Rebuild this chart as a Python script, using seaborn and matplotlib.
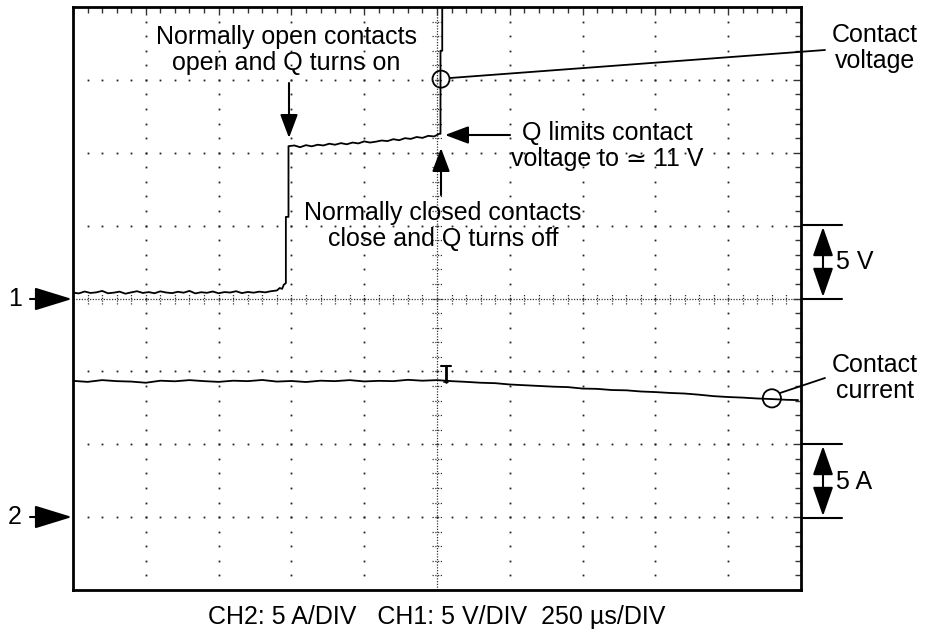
import numpy as np
import matplotlib
matplotlib.use("Agg")
import matplotlib.pyplot as plt
import seaborn as sns
from matplotlib.patches import Ellipse

# --- scope settings ---
US_PER_DIV = 250.0          # time base
CH1_V_PER_DIV = 5.0         # contact voltage
CH2_A_PER_DIV = 5.0         # contact current
CH1_GROUND = 4.0            # ground marker "1" (divisions from bottom)
CH2_GROUND = 1.0            # ground marker "2"

# --- CH1: contact voltage (us, V) ---
ch1_t = [0, 20, 40, 60, 80, 100, 120, 140, 160, 180, 200, 220, 240, 260, 280,
         300, 320, 340, 360, 380, 400, 420, 440, 460, 480, 500, 520, 540, 560,
         580, 600, 620, 640, 660, 680, 700, 710, 718, 724, 731, 731, 740, 740,
         760, 780, 800, 820, 840, 860, 880, 900, 920, 940, 960, 980, 1000, 1020,
         1040, 1060, 1080, 1100, 1120, 1140, 1160, 1180, 1200, 1220, 1240, 1258,
         1262, 1262, 1268, 1268]
ch1_v = [0.40, 0.35, 0.48, 0.38, 0.42, 0.52, 0.36, 0.40, 0.47, 0.33, 0.42, 0.50,
         0.38, 0.44, 0.36, 0.49, 0.41, 0.37, 0.46, 0.40, 0.52, 0.35, 0.43, 0.39,
         0.48, 0.36, 0.44, 0.41, 0.50, 0.37, 0.45, 0.40, 0.47, 0.42, 0.50, 0.55,
         0.72, 0.66, 0.95, 1.05, 5.6, 5.6, 10.45,
         10.50, 10.38, 10.52, 10.44, 10.55, 10.50, 10.62, 10.55, 10.66, 10.58,
         10.70, 10.64, 10.78, 10.70, 10.76, 10.84, 10.80, 10.93, 10.86, 11.00,
         10.95, 11.08, 11.02, 11.16, 11.12, 11.30,
         11.30, 17.0, 17.0, 30.0]

# --- CH2: contact current (us, A) ---
ch2_t = [0, 50, 100, 150, 200, 250, 300, 350, 400, 450, 500, 550, 600, 650, 700,
         750, 800, 850, 900, 950, 1000, 1050, 1100, 1150, 1200, 1250, 1300, 1350,
         1400, 1450, 1500, 1550, 1600, 1650, 1700, 1750, 1800, 1850, 1900, 1950,
         2000, 2050, 2100, 2150, 2200, 2250, 2300, 2350, 2400, 2450, 2490]
ch2_i = [9.35, 9.28, 9.40, 9.33, 9.30, 9.22, 9.36, 9.32, 9.40, 9.33, 9.28, 9.36,
         9.33, 9.41, 9.30, 9.34, 9.27, 9.36, 9.33, 9.40, 9.31, 9.35, 9.33, 9.42,
         9.36, 9.40, 9.33, 9.28, 9.22, 9.19, 9.10, 9.05, 9.00, 8.95, 8.92, 8.82,
         8.80, 8.72, 8.70, 8.62, 8.58, 8.52, 8.48, 8.40, 8.30, 8.24, 8.20, 8.14,
         8.10, 8.05, 8.03]

TRIGGER_T = 1281  # trigger marker position (us)

W, H = 927, 633
sns.set_style("white")
plt.rcParams['font.family'] = ['Liberation Sans', 'DejaVu Sans']
plt.rcParams['text.color'] = 'black'
FS = 18

fig = plt.figure(figsize=(W / 100, H / 100), dpi=100)
ax = fig.add_axes([73 / W, 1 - 590 / H, 728 / W, 583 / H])
ax.set_xlim(0, 10)
ax.set_ylim(0, 8)


def fp(x, y):
    # reference pixel -> figure fraction
    return (x / W, 1 - y / H)


# graticule: dotted major lines
dot = dict(ls='none', marker='s', ms=1.3, color='#222222', mew=0)
sub = np.arange(0.2, 10, 0.2)
for gx in [1, 2, 3, 4, 6, 7, 8, 9]:
    ys = np.arange(0.2, 8, 0.2)
    ax.plot(np.full_like(ys, gx), ys, **dot)
for gy in [1, 2, 3, 5, 6, 7]:
    ax.plot(sub, np.full_like(sub, gy), **dot)

# centre lines with cross ticks
cl = dict(color='#333333', lw=0.9, ls=(0, (1, 1.2)))
ax.axvline(5, **cl)
ax.axhline(4, **cl)
ax.hlines(np.arange(0.2, 8, 0.2), 5 - 0.07, 5 + 0.07, **cl)
ax.vlines(sub, 4 - 0.07, 4 + 0.07, **cl)

# border ticks
ax.set_xticks(np.arange(0, 11, 1))
ax.set_yticks(np.arange(0, 9, 1))
ax.set_xticks(sub, minor=True)
ax.set_yticks(np.arange(0.2, 8, 0.2), minor=True)
ax.tick_params(which='both', direction='in', top=True, right=True,
               labelbottom=False, labelleft=False, color='#333333')
ax.tick_params(which='major', length=6, width=1)
ax.tick_params(which='minor', length=4, width=1)
for s in ax.spines.values():
    s.set_linewidth(2)
    s.set_color('black')

# traces
x1 = np.array(ch1_t) / US_PER_DIV
y1 = CH1_GROUND + np.array(ch1_v) / CH1_V_PER_DIV
x2 = np.array(ch2_t) / US_PER_DIV
y2 = CH2_GROUND + np.array(ch2_i) / CH2_A_PER_DIV
sns.lineplot(x=x1, y=y1, sort=False, estimator=None, color='black', lw=1.3, ax=ax)
sns.lineplot(x=x2, y=y2, sort=False, estimator=None, color='black', lw=1.3, ax=ax)

# trigger marker
tx = TRIGGER_T / US_PER_DIV
ax.plot([tx, tx], [2.85, 3.07], color='black', lw=2)
ax.plot([tx - 0.07, tx + 0.07], [3.07, 3.07], color='black', lw=1.5)
ax.plot([tx - 0.03, tx + 0.03], [2.86, 2.86], color='black', lw=1.2)

# circles marking the traces
ax.add_patch(Ellipse((5.055, 7.01), 0.234, 0.234, fill=False, lw=1.3, color='black'))
ax.add_patch(Ellipse((9.60, 2.63), 0.25, 0.25, fill=False, lw=1.3, color='black'))


def arrow(p0, p1, style='-|>', hl=0.8, hw=0.3, ms=18, lw=1.5):
    ax.annotate('', xy=fp(*p1), xytext=fp(*p0), xycoords='figure fraction',
                textcoords='figure fraction', annotation_clip=False,
                arrowprops=dict(arrowstyle=f'{style},head_length={hl},head_width={hw}',
                                mutation_scale=ms, lw=lw, color='black',
                                shrinkA=0, shrinkB=0))


def line(p0, p1, lw=1.3):
    fig.add_artist(plt.Line2D([fp(*p0)[0], fp(*p1)[0]], [fp(*p0)[1], fp(*p1)[1]],
                              transform=fig.transFigure, color='black', lw=lw))


def label(x, y, s, ha='center'):
    fig.text(*fp(x, y), s, ha=ha, va='center', fontsize=FS, linespacing=1.15,
             color='black')


label(286, 50, "Normally open contacts\nopen and Q turns on")
arrow((289, 83), (289, 138))

label(875, 48, "Contact\nvoltage")
line((450, 78), (825, 50))

label(607, 146, "Q limits contact\nvoltage to \u2243 11 V")
arrow((510, 135), (445, 135))

label(443, 226, "Normally closed contacts\nclose and Q turns off")
arrow((441, 195), (441, 148))

label(875, 378, "Contact\ncurrent")
line((780, 393), (825, 378))

# scale bars
line((803, 225), (842, 225), lw=1.5)
line((803, 299), (842, 299), lw=1.5)
arrow((823, 227), (823, 297), style='<|-|>', hl=1.0, hw=0.35, ms=18)
label(836, 262, "5 V", ha='left')

line((803, 444), (842, 444), lw=1.5)
line((803, 518), (842, 518), lw=1.5)
arrow((823, 446), (823, 516), style='<|-|>', hl=1.0, hw=0.35, ms=18)
label(836, 482, "5 A", ha='left')

# ground markers
label(15, 299, "1")
arrow((30, 299), (72, 299), hl=1.3, hw=0.4, ms=18)
label(15, 517, "2")
arrow((30, 517), (72, 517), hl=1.3, hw=0.4, ms=18)

label(437, 617, "CH2: 5 A/DIV   CH1: 5 V/DIV  250 \u00b5s/DIV")

fig.savefig("out.png", dpi=100)
